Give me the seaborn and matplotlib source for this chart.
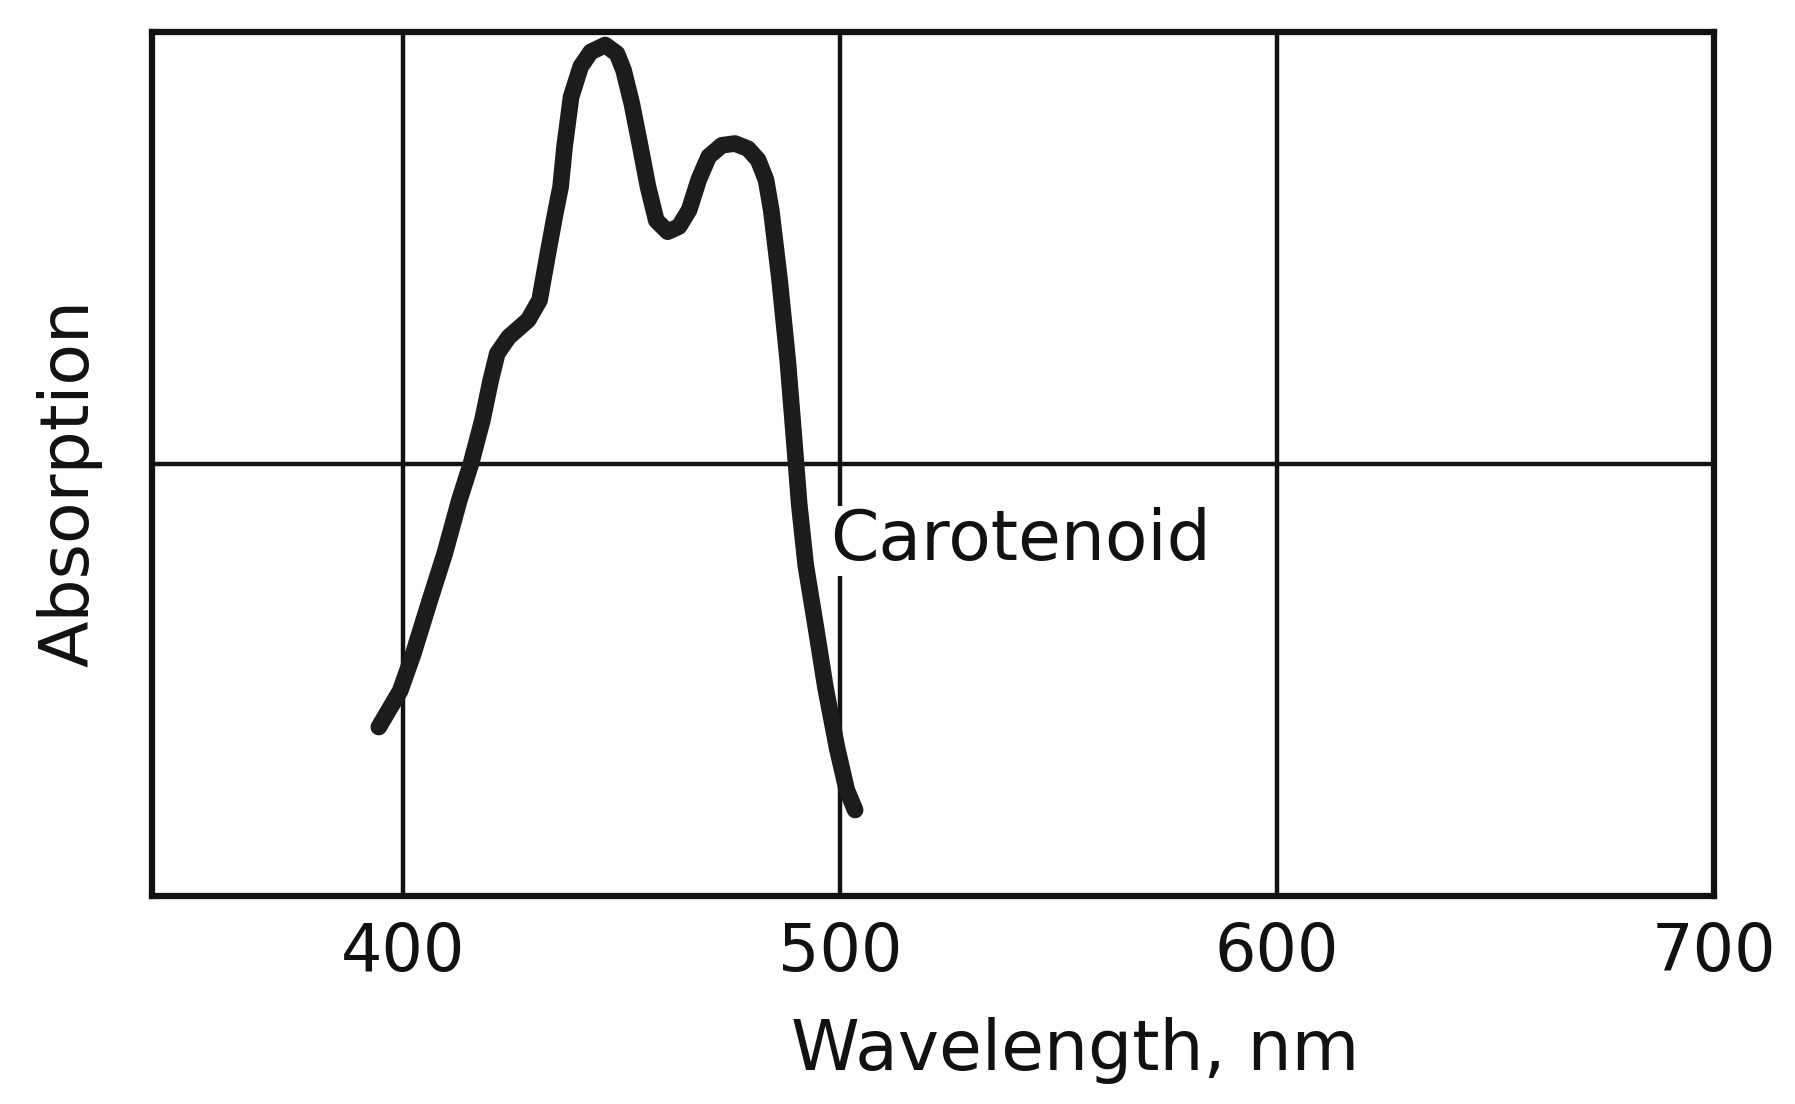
import matplotlib
matplotlib.use("Agg")
import matplotlib.pyplot as plt
import seaborn as sns
import pandas as pd

# carotenoid absorption curve (relative units)
wavelength = [394.4, 399.3, 402.3, 406.1, 409.5, 412.8, 415.5, 418.1, 420.0,
              421.5, 424.1, 428.6, 431.2, 432.0, 433.1, 434.7, 436.0, 436.9,
              438.4, 440.6, 442.9, 446.2, 448.9, 450.4, 452.3, 454.1, 456.0,
              457.9, 460.5, 463.1, 465.4, 467.6, 469.9, 472.9, 475.9, 478.9,
              481.2, 483.0, 484.2, 486.1, 488.0, 489.5, 490.6, 492.1, 494.4,
              496.6, 499.3, 501.5, 503.4]
absorption = [0.196, 0.238, 0.281, 0.343, 0.397, 0.458, 0.501, 0.551, 0.597,
              0.628, 0.647, 0.667, 0.690, 0.713, 0.744, 0.788, 0.821, 0.867,
              0.925, 0.960, 0.977, 0.985, 0.975, 0.956, 0.917, 0.871, 0.821,
              0.782, 0.769, 0.775, 0.794, 0.829, 0.856, 0.869, 0.871, 0.865,
              0.852, 0.829, 0.794, 0.714, 0.619, 0.525, 0.454, 0.383, 0.312,
              0.242, 0.171, 0.123, 0.100]
x_ticks = [400, 500, 600, 700]
curve_label = "Carotenoid"

df = pd.DataFrame({"wavelength": wavelength, "absorption": absorption})

sns.set_style("white")
plt.rcParams["font.family"] = ["DejaVu Sans"]
ink = "#111111"

fig = plt.figure(figsize=(17.95, 11.04), dpi=100)
ax = fig.add_axes([0.0847, 0.188, 0.8703, 0.783])

# grid lines
for xv in x_ticks[:-1]:
    ax.axvline(xv, color=ink, linewidth=3.2, zorder=1)
ax.axhline(0.5, color=ink, linewidth=3.2, zorder=1)

sns.lineplot(data=df, x="wavelength", y="absorption", ax=ax, color="#1c1c1c",
             linewidth=12, sort=False, zorder=3, solid_capstyle="round",
             solid_joinstyle="round")

ax.text(497.7, 0.389, curve_label, fontsize=50, color=ink,
        ha="left", va="baseline", zorder=2,
        bbox=dict(facecolor="white", edgecolor="none", pad=1))

ax.set_xlim(342.5, 700)
ax.set_ylim(0, 1)
ax.set_xticks(x_ticks)
ax.set_xticklabels([str(t) for t in x_ticks])
ax.set_yticks([])
ax.tick_params(axis="x", length=0, pad=18, labelsize=47, colors=ink)

for s in ax.spines.values():
    s.set_color(ink)
    s.set_linewidth(4.5)

ax.set_xlabel("Wavelength, nm", fontsize=50, color=ink)
ax.xaxis.set_label_coords(0.591, -0.178)
ax.xaxis.label.set_va("center")
ax.set_ylabel("Absorption", fontsize=49, color=ink)
ax.yaxis.set_label_coords(-0.053, 0.478)
ax.yaxis.label.set_va("center")

fig.savefig("out.png", dpi=100, facecolor="white")
